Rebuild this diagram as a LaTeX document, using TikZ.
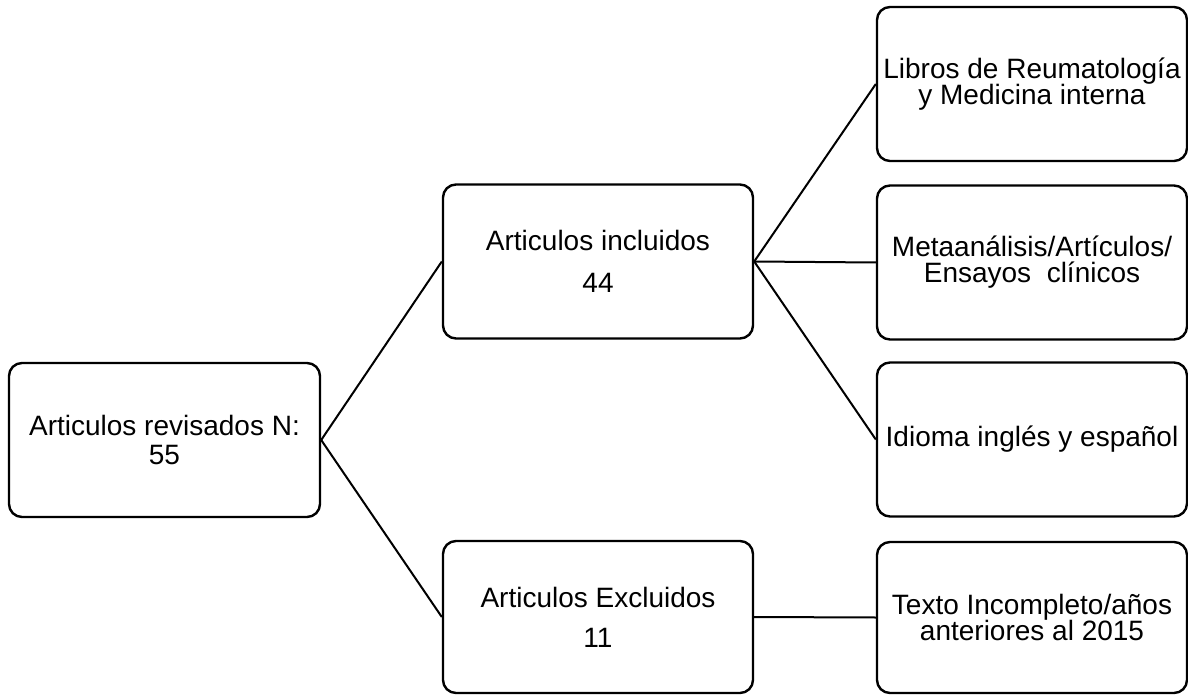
\documentclass[tikz,border=0pt]{standalone}
\usepackage{fontspec}
\setmainfont{Liberation Sans}
\usepackage{tikz}
\usetikzlibrary{positioning}
\tikzset{
  caja/.style={draw,line width=1.2pt,rounded corners=6.5pt,minimum width=155pt,minimum height=77pt,inner sep=0pt,align=center},
  rama/.style={line width=1pt},
}
\begin{document}
\begin{tikzpicture}[x=0.5pt,y=-0.5pt,font=\fontsize{14}{16}\selectfont]
\useasboundingbox (0,0) rectangle (1188,695);
\node[caja,minimum width=155.5pt] (rev) at (164.5,440) {Articulos revisados N:\\[-1.5pt]55};
\node[caja] (inc) at (598,261.5) {Articulos incluidos\\[5pt]44};
\node[caja,minimum height=76pt] (exc) at (598,617) {Articulos Excluidos\\[4pt]11};
\node[caja] (lib) at (1032,84) {Libros de Reumatología\\[-3pt]y Medicina interna};
\node[caja] (met) at (1032,262.5) {Metaanálisis/Artículos/\\[-3pt]Ensayos~~clínicos};
\node[caja] (idi) at (1032,439.5) {Idioma inglés y español};
\node[caja,minimum height=75.5pt] (tex) at (1032,617.5) {Texto Incompleto/años\\[-3pt]anteriores al 2015};
\foreach \hijo in {inc,exc} \draw[rama] (rev.east) -- (\hijo.west);
\foreach \hijo in {lib,met,idi} \draw[rama] (inc.east) -- (\hijo.west);
\draw[rama] (exc.east) -- (tex.west);
\end{tikzpicture}
\end{document}
